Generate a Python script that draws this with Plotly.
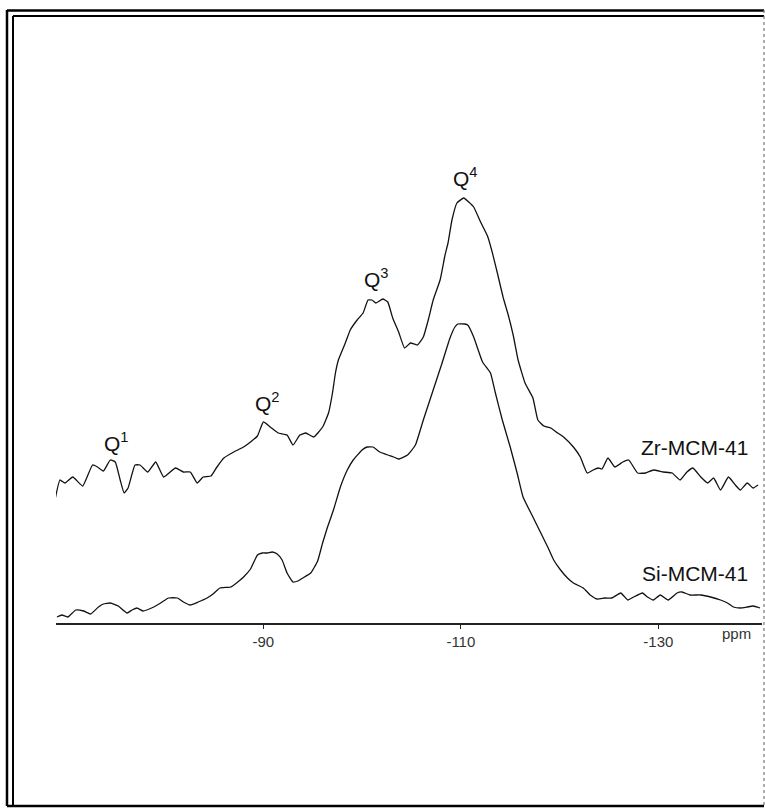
import plotly.graph_objects as go

# ---- data (chemical shift in ppm, intensity in a.u.) ----
zr_ppm = [-68.9, -69.4, -69.9, -70.7, -71.7, -72.7, -73.2, -73.8, -74.5, -75.0, -75.5, -75.9, -76.3,
          -77.0, -77.5, -78.3, -79.1, -79.9, -81.1, -81.9, -82.6, -83.3, -83.9, -84.7, -85.3, -86.0,
          -87.0, -88.0, -88.7, -89.4, -90.0, -90.7, -91.5, -92.4, -93.0, -93.7, -94.3, -95.1, -96.0,
          -96.6, -97.0, -97.3, -97.6, -98.3, -98.8, -99.5, -100.1, -100.6, -101.0, -101.4, -102.1,
          -102.6, -103.1, -103.7, -104.3, -104.9, -105.6, -106.2, -106.7, -107.2, -107.9, -108.4,
          -108.7, -109.1, -109.6, -110.3, -110.8, -111.3, -112.0, -112.7, -113.2, -113.7, -114.3,
          -114.8, -115.3, -115.8, -116.5, -117.3, -117.8, -118.4, -119.1, -119.8, -120.4, -121.4,
          -122.1, -122.8, -123.4, -123.9, -124.3, -124.9, -125.6, -126.4, -127.0, -127.9, -128.7,
          -129.5, -130.5, -131.4, -132.2, -132.9, -133.5, -134.3, -135.0, -135.6, -136.3, -137.1,
          -137.8, -138.3, -139.0, -139.6, -140.1]
zr_int = [123, 143, 140, 146, 137, 158, 156, 152, 163, 161, 143, 130, 135,
          158, 158, 151, 161, 146, 155, 151, 151, 140, 146, 147, 156, 165,
          171, 176, 181, 187, 201, 196, 190, 188, 178, 188, 190, 186, 196,
          210, 230, 250, 263, 280, 293, 303, 310, 323, 323, 320, 324,
          321, 305, 291, 275, 280, 278, 286, 303, 323, 343, 368,
          380, 403, 420, 425, 421, 416, 401, 387, 370, 350, 325,
          308, 288, 263, 240, 225, 203, 197, 195, 190, 186, 176,
          166, 150, 153, 155, 154, 165, 156, 161, 163, 150, 150,
          153, 151, 150, 143, 151, 155, 146, 140, 145, 133, 146,
          138, 133, 140, 135, 138]

si_ppm = [-69.1, -69.6, -70.2, -71.0, -71.8, -72.5, -73.3, -73.8, -74.5, -75.3, -76.2, -76.7, -77.2,
          -77.8, -78.9, -79.6, -80.4, -81.3, -81.9, -82.6, -83.4, -84.3, -84.9, -85.6, -86.7, -87.4,
          -88.0, -88.7, -89.4, -89.9, -90.4, -90.9, -91.4, -91.9, -92.4, -93.0, -93.5, -94.0, -94.8,
          -95.5, -96.0, -96.5, -97.1, -97.8, -98.5, -99.1, -100.0, -100.5, -101.1, -101.8, -102.6,
          -103.2, -103.7, -104.6, -105.4, -106.2, -107.1, -108.1, -108.9, -109.4, -109.7, -110.4,
          -110.7, -111.3, -112.2, -113.0, -113.5, -114.2, -115.0, -115.7, -116.3, -117.3, -118.1,
          -118.8, -119.4, -120.1, -120.8, -121.4, -122.4, -123.1, -123.8, -124.6, -125.3, -126.2,
          -126.9, -127.5, -128.4, -128.9, -129.5, -130.2, -131.0, -131.9, -132.4, -133.2, -134.3,
          -135.3, -136.3, -137.0, -137.6, -138.3, -139.0, -139.6, -140.3]
si_int = [6, 8, 6, 13, 12, 9, 16, 19, 20, 17, 10, 13, 15,
          12, 16, 20, 25, 25, 21, 18, 21, 25, 29, 35, 36, 41,
          46, 54, 68, 70, 70, 71, 69, 63, 50, 41, 42, 45, 50,
          62, 80, 96, 113, 136, 153, 163, 173, 176, 176, 171, 168,
          166, 164, 168, 178, 203, 230, 260, 285, 296, 299, 299,
          298, 286, 261, 250, 230, 203, 176, 150, 126, 106, 90,
          76, 63, 53, 45, 40, 35, 28, 24, 25, 25, 30,
          23, 26, 30, 26, 23, 28, 23, 30, 31, 28, 28,
          26, 23, 20, 16, 15, 16, 17, 15]

tick_vals = [-90, -110, -130]
tick_text = ["-90", "-110", "-130"]

peak_labels = ["Q<sup>1</sup>", "Q<sup>2</sup>", "Q<sup>3</sup>", "Q<sup>4</sup>"]
peak_ppm = [-73.7, -88.9, -100.0, -109.0]
peak_int = [166, 206, 330, 431]

sample_names = ["Zr-MCM-41", "Si-MCM-41"]
sample_ppm = [-139.3, -139.3]
sample_int = [176, 50]

# ---- layout geometry ----
W, H = 765, 808
ML, MR, MT, MB = 56, 3, 15, 185
PW, PH = W - ML - MR, H - MT - MB


def px(x):
    return (x - ML) / PW


def py(y):
    return (H - MB - y) / PH


FONT = "Arial, Liberation Sans, sans-serif"

fig = go.Figure()
fig.add_trace(go.Scatter(x=zr_ppm, y=zr_int, mode="lines", name=sample_names[0],
                         line=dict(color="#111111", width=1.3, shape="spline", smoothing=0.4)))
fig.add_trace(go.Scatter(x=si_ppm, y=si_int, mode="lines", name=sample_names[1],
                         line=dict(color="#111111", width=1.3, shape="spline", smoothing=0.4)))

annotations = []
for t, x, y in zip(peak_labels, peak_ppm, peak_int):
    annotations.append(dict(x=x, y=y, text=t, showarrow=False, xanchor="left", yanchor="bottom",
                            font=dict(family=FONT, size=21, color="#111111")))
for t, x, y in zip(sample_names, sample_ppm, sample_int):
    annotations.append(dict(x=x, y=y, text=t, showarrow=False, xanchor="right", yanchor="middle",
                            font=dict(family=FONT, size=21, color="#111111")))
annotations.append(dict(x=-139.6, xref="x", y=py(633), yref="paper", text="ppm", showarrow=False,
                        xanchor="right", yanchor="middle",
                        font=dict(family=FONT, size=15, color="#333333")))

frame = []


def line(x0, y0, x1, y1, w, c="#000000", dash="solid"):
    frame.append(dict(type="line", xref="paper", yref="paper", x0=px(x0), y0=py(y0),
                      x1=px(x1), y1=py(y1), line=dict(color=c, width=w, dash=dash)))


line(7, 10, 7, 806, 2.5)
line(13, 16, 13, 806, 2)
line(7, 10.5, 764, 10.5, 2.5)
line(13, 16, 764, 16, 2)
line(764, 10, 764, 806, 1.2, "#777777", "dot")
line(7, 806, 764, 806, 2.5)

fig.update_layout(
    width=W, height=H,
    margin=dict(l=ML, r=MR, t=MT, b=MB),
    paper_bgcolor="white", plot_bgcolor="white",
    showlegend=False,
    xaxis=dict(range=[-69.0, -140.5], tickvals=tick_vals, ticktext=tick_text,
               showline=True, linecolor="#222222", linewidth=1.5, ticks="outside",
               ticklen=4, tickcolor="#222222", showgrid=False, zeroline=False,
               tickfont=dict(family=FONT, size=15, color="#333333")),
    yaxis=dict(range=[0, 608], visible=False, showgrid=False, zeroline=False),
    annotations=annotations,
    shapes=frame,
)

fig.write_html("out.html")
